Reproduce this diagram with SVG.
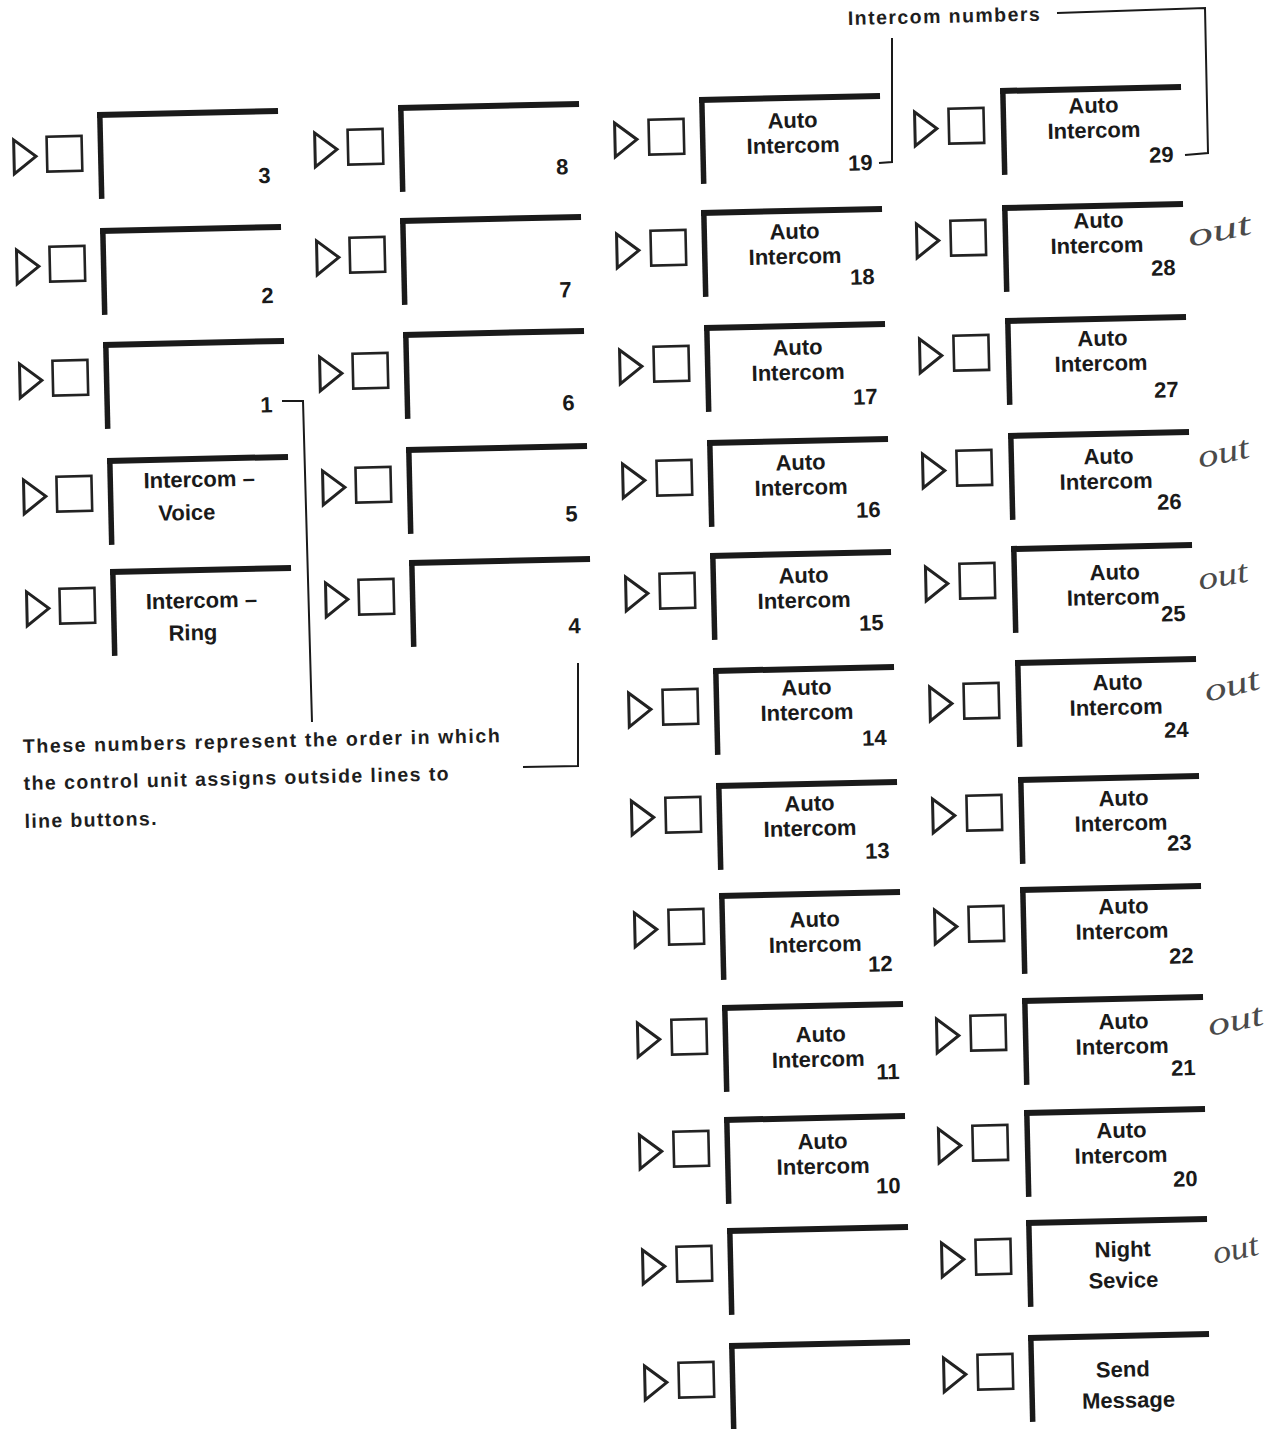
<svg xmlns="http://www.w3.org/2000/svg" width="1269" height="1429" viewBox="0 0 1269 1429">
<style>
.bg{fill:#ffffff}
.led{fill:none;stroke:#222;stroke-width:3;stroke-linejoin:miter}
.key{fill:none;stroke:#222;stroke-width:2.6}
.bar{fill:#1a1a1a}
.lbl{font-family:"Liberation Sans",Arial,sans-serif;font-weight:bold;font-size:22px;fill:#1a1a1a;text-anchor:middle}
.lbs{font-family:"Liberation Sans",Arial,sans-serif;font-weight:bold;font-size:22px;fill:#1a1a1a}
.num{font-family:"Liberation Sans",Arial,sans-serif;font-weight:bold;font-size:22px;fill:#1a1a1a;text-anchor:end}
.note{font-family:"Liberation Sans",Arial,sans-serif;font-weight:bold;font-size:19.5px;fill:#1e1e1e}
.ink{font-family:"Liberation Serif","DejaVu Serif",serif;font-style:italic;font-size:32px;fill:#4a4a4a}
.lead{fill:none;stroke:#1a1a1a;stroke-width:2}
</style>
<rect class="bg" x="0" y="0" width="1269" height="1429"/>

<!-- Column 1 -->
<g id="btn-3" transform="translate(97,112) rotate(-1.3)">
<polygon class="led" points="-84,26 -62,43 -84,60"/><rect class="key" x="-51" y="23.5" width="35" height="35"/>
<rect class="bar" x="0" y="0" width="181" height="6"/><rect class="bar" x="0" y="0" width="5.5" height="87"/>
<text class="num" x="172" y="75">3</text></g>
<g id="btn-2" transform="translate(100,228) rotate(-1.3)">
<polygon class="led" points="-84,20 -62,37 -84,54"/><rect class="key" x="-51" y="17.5" width="35" height="35"/>
<rect class="bar" x="0" y="0" width="181" height="6"/><rect class="bar" x="0" y="0" width="5.5" height="87"/>
<text class="num" x="172" y="79">2</text></g>
<g id="btn-1" transform="translate(103,342) rotate(-1.3)">
<polygon class="led" points="-84,20 -62,37 -84,54"/><rect class="key" x="-51" y="17.5" width="35" height="35"/>
<rect class="bar" x="0" y="0" width="181" height="6"/><rect class="bar" x="0" y="0" width="5.5" height="87"/>
<text class="num" x="168" y="74">1</text></g>
<g id="btn-intercom-voice" transform="translate(107,458) rotate(-1.3)">
<polygon class="led" points="-84,20 -62,37 -84,54"/><rect class="key" x="-51" y="17.5" width="35" height="35"/>
<rect class="bar" x="0" y="0" width="181" height="6"/><rect class="bar" x="0" y="0" width="5.5" height="87"/>
<text class="lbs" x="36" y="31">Intercom –</text><text class="lbs" x="50" y="64">Voice</text></g>
<g id="btn-intercom-ring" transform="translate(110,569) rotate(-1.3)">
<polygon class="led" points="-84,21 -62,38 -84,55"/><rect class="key" x="-51" y="18.5" width="35" height="35"/>
<rect class="bar" x="0" y="0" width="181" height="6"/><rect class="bar" x="0" y="0" width="5.5" height="87"/>
<text class="lbs" x="35" y="41">Intercom –</text><text class="lbs" x="57" y="73">Ring</text></g>

<!-- Column 2 -->
<g id="btn-8" transform="translate(398,105) rotate(-1.3)">
<polygon class="led" points="-84,26 -62,43 -84,60"/><rect class="key" x="-51" y="23.5" width="35" height="35"/>
<rect class="bar" x="0" y="0" width="181" height="6"/><rect class="bar" x="0" y="0" width="5.5" height="87"/>
<text class="num" x="169" y="73">8</text></g>
<g id="btn-7" transform="translate(400,218) rotate(-1.3)">
<polygon class="led" points="-84,21 -62,38 -84,55"/><rect class="key" x="-51" y="18.5" width="35" height="35"/>
<rect class="bar" x="0" y="0" width="181" height="6"/><rect class="bar" x="0" y="0" width="5.5" height="87"/>
<text class="num" x="170" y="83">7</text></g>
<g id="btn-6" transform="translate(403,332) rotate(-1.3)">
<polygon class="led" points="-84,23 -62,40 -84,57"/><rect class="key" x="-51" y="20.5" width="35" height="35"/>
<rect class="bar" x="0" y="0" width="181" height="6"/><rect class="bar" x="0" y="0" width="5.5" height="87"/>
<text class="num" x="170" y="82">6</text></g>
<g id="btn-5" transform="translate(406,447) rotate(-1.3)">
<polygon class="led" points="-84,22 -62,39 -84,56"/><rect class="key" x="-51" y="19.5" width="35" height="35"/>
<rect class="bar" x="0" y="0" width="181" height="6"/><rect class="bar" x="0" y="0" width="5.5" height="87"/>
<text class="num" x="170" y="78">5</text></g>
<g id="btn-4" transform="translate(409,560) rotate(-1.3)">
<polygon class="led" points="-84,21 -62,38 -84,55"/><rect class="key" x="-51" y="18.5" width="35" height="35"/>
<rect class="bar" x="0" y="0" width="181" height="6"/><rect class="bar" x="0" y="0" width="5.5" height="87"/>
<text class="num" x="170" y="77">4</text></g>

<!-- Column 3 -->
<g id="btn-19" transform="translate(699,97) rotate(-1.3)">
<polygon class="led" points="-85,24 -63,41 -85,58"/><rect class="key" x="-51" y="21.5" width="35" height="35"/>
<rect class="bar" x="0" y="0" width="181" height="6"/><rect class="bar" x="0" y="0" width="5.5" height="87"/>
<text class="lbl" x="93" y="33">Auto</text><text class="lbl" x="93" y="58">Intercom</text><text class="num" x="172" y="77">19</text></g>
<g id="btn-18" transform="translate(701,210) rotate(-1.3)">
<polygon class="led" points="-85,22 -63,39 -85,56"/><rect class="key" x="-51" y="19.5" width="35" height="35"/>
<rect class="bar" x="0" y="0" width="181" height="6"/><rect class="bar" x="0" y="0" width="5.5" height="87"/>
<text class="lbl" x="93" y="31">Auto</text><text class="lbl" x="93" y="56">Intercom</text><text class="num" x="172" y="78">18</text></g>
<g id="btn-17" transform="translate(704,325) rotate(-1.3)">
<polygon class="led" points="-85,23 -63,40 -85,57"/><rect class="key" x="-51" y="20.5" width="35" height="35"/>
<rect class="bar" x="0" y="0" width="181" height="6"/><rect class="bar" x="0" y="0" width="5.5" height="87"/>
<text class="lbl" x="93" y="32">Auto</text><text class="lbl" x="93" y="57">Intercom</text><text class="num" x="172" y="83">17</text></g>
<g id="btn-16" transform="translate(707,440) rotate(-1.3)">
<polygon class="led" points="-85,22 -63,39 -85,56"/><rect class="key" x="-51" y="19.5" width="35" height="35"/>
<rect class="bar" x="0" y="0" width="181" height="6"/><rect class="bar" x="0" y="0" width="5.5" height="87"/>
<text class="lbl" x="93" y="32">Auto</text><text class="lbl" x="93" y="57">Intercom</text><text class="num" x="172" y="81">16</text></g>
<g id="btn-15" transform="translate(710,553) rotate(-1.3)">
<polygon class="led" points="-85,22 -63,39 -85,56"/><rect class="key" x="-51" y="19.5" width="35" height="35"/>
<rect class="bar" x="0" y="0" width="181" height="6"/><rect class="bar" x="0" y="0" width="5.5" height="87"/>
<text class="lbl" x="93" y="32">Auto</text><text class="lbl" x="93" y="57">Intercom</text><text class="num" x="172" y="81">15</text></g>
<g id="btn-14" transform="translate(713,668) rotate(-1.3)">
<polygon class="led" points="-85,23 -63,40 -85,57"/><rect class="key" x="-51" y="20.5" width="35" height="35"/>
<rect class="bar" x="0" y="0" width="181" height="6"/><rect class="bar" x="0" y="0" width="5.5" height="87"/>
<text class="lbl" x="93" y="29">Auto</text><text class="lbl" x="93" y="54">Intercom</text><text class="num" x="172" y="81">14</text></g>
<g id="btn-13" transform="translate(716,783) rotate(-1.3)">
<polygon class="led" points="-85,16 -63,33 -85,50"/><rect class="key" x="-51" y="13.5" width="35" height="35"/>
<rect class="bar" x="0" y="0" width="181" height="6"/><rect class="bar" x="0" y="0" width="5.5" height="87"/>
<text class="lbl" x="93" y="30">Auto</text><text class="lbl" x="93" y="55">Intercom</text><text class="num" x="172" y="79">13</text></g>
<g id="btn-12" transform="translate(719,893) rotate(-1.3)">
<polygon class="led" points="-85,18 -63,35 -85,52"/><rect class="key" x="-51" y="15.5" width="35" height="35"/>
<rect class="bar" x="0" y="0" width="181" height="6"/><rect class="bar" x="0" y="0" width="5.5" height="87"/>
<text class="lbl" x="95" y="36">Auto</text><text class="lbl" x="95" y="61">Intercom</text><text class="num" x="172" y="82">12</text></g>
<g id="btn-11" transform="translate(722,1005) rotate(-1.3)">
<polygon class="led" points="-85,16 -63,33 -85,50"/><rect class="key" x="-51" y="13.5" width="35" height="35"/>
<rect class="bar" x="0" y="0" width="181" height="6"/><rect class="bar" x="0" y="0" width="5.5" height="87"/>
<text class="lbl" x="98" y="39">Auto</text><text class="lbl" x="95" y="64">Intercom</text><text class="num" x="176" y="78">11</text></g>
<g id="btn-10" transform="translate(724,1117) rotate(-1.3)">
<polygon class="led" points="-85,16 -63,33 -85,50"/><rect class="key" x="-51" y="13.5" width="35" height="35"/>
<rect class="bar" x="0" y="0" width="181" height="6"/><rect class="bar" x="0" y="0" width="5.5" height="87"/>
<text class="lbl" x="98" y="34">Auto</text><text class="lbl" x="98" y="59">Intercom</text><text class="num" x="175" y="80">10</text></g>
<g id="btn-blank-a" transform="translate(727,1228) rotate(-1.3)">
<polygon class="led" points="-85,20 -63,37 -85,54"/><rect class="key" x="-51" y="17.5" width="35" height="35"/>
<rect class="bar" x="0" y="0" width="181" height="6"/><rect class="bar" x="0" y="0" width="5.5" height="87"/></g>
<g id="btn-blank-b" transform="translate(729,1343) rotate(-1.3)">
<polygon class="led" points="-85,21 -63,38 -85,55"/><rect class="key" x="-51" y="18.5" width="35" height="35"/>
<rect class="bar" x="0" y="0" width="181" height="6"/><rect class="bar" x="0" y="0" width="5.5" height="87"/></g>

<!-- Column 4 -->
<g id="btn-29" transform="translate(1000,88) rotate(-1.3)">
<polygon class="led" points="-86,22 -64,39 -86,56"/><rect class="key" x="-52" y="19.5" width="35" height="35"/>
<rect class="bar" x="0" y="0" width="181" height="6"/><rect class="bar" x="0" y="0" width="5.5" height="87"/>
<text class="lbl" x="93" y="27">Auto</text><text class="lbl" x="93" y="52">Intercom</text><text class="num" x="172" y="78">29</text></g>
<g id="btn-28" transform="translate(1002,205) rotate(-1.3)">
<polygon class="led" points="-86,17 -64,34 -86,51"/><rect class="key" x="-52" y="14.5" width="35" height="35"/>
<rect class="bar" x="0" y="0" width="181" height="6"/><rect class="bar" x="0" y="0" width="5.5" height="87"/>
<text class="lbl" x="96" y="25">Auto</text><text class="lbl" x="94" y="50">Intercom</text><text class="num" x="172" y="74">28</text></g>
<g id="btn-27" transform="translate(1005,318) rotate(-1.3)">
<polygon class="led" points="-86,19 -64,36 -86,53"/><rect class="key" x="-52" y="16.5" width="35" height="35"/>
<rect class="bar" x="0" y="0" width="181" height="6"/><rect class="bar" x="0" y="0" width="5.5" height="87"/>
<text class="lbl" x="97" y="30">Auto</text><text class="lbl" x="95" y="55">Intercom</text><text class="num" x="172" y="83">27</text></g>
<g id="btn-26" transform="translate(1008,433) rotate(-1.3)">
<polygon class="led" points="-86,19 -64,36 -86,53"/><rect class="key" x="-52" y="16.5" width="35" height="35"/>
<rect class="bar" x="0" y="0" width="181" height="6"/><rect class="bar" x="0" y="0" width="5.5" height="87"/>
<text class="lbl" x="100" y="33">Auto</text><text class="lbl" x="97" y="58">Intercom</text><text class="num" x="172" y="80">26</text></g>
<g id="btn-25" transform="translate(1011,546) rotate(-1.3)">
<polygon class="led" points="-86,19 -64,36 -86,53"/><rect class="key" x="-52" y="16.5" width="35" height="35"/>
<rect class="bar" x="0" y="0" width="181" height="6"/><rect class="bar" x="0" y="0" width="5.5" height="87"/>
<text class="lbl" x="103" y="36">Auto</text><text class="lbl" x="101" y="61">Intercom</text><text class="num" x="173" y="79">25</text></g>
<g id="btn-24" transform="translate(1015,660) rotate(-1.3)">
<polygon class="led" points="-86,25 -64,42 -86,59"/><rect class="key" x="-52" y="22.5" width="35" height="35"/>
<rect class="bar" x="0" y="0" width="181" height="6"/><rect class="bar" x="0" y="0" width="5.5" height="87"/>
<text class="lbl" x="102" y="32">Auto</text><text class="lbl" x="100" y="57">Intercom</text><text class="num" x="172" y="81">24</text></g>
<g id="btn-23" transform="translate(1018,777) rotate(-1.3)">
<polygon class="led" points="-86,20 -64,37 -86,54"/><rect class="key" x="-52" y="17.5" width="35" height="35"/>
<rect class="bar" x="0" y="0" width="181" height="6"/><rect class="bar" x="0" y="0" width="5.5" height="87"/>
<text class="lbl" x="105" y="31">Auto</text><text class="lbl" x="102" y="56">Intercom</text><text class="num" x="172" y="77">23</text></g>
<g id="btn-22" transform="translate(1020,887) rotate(-1.3)">
<polygon class="led" points="-86,21 -64,38 -86,55"/><rect class="key" x="-52" y="18.5" width="35" height="35"/>
<rect class="bar" x="0" y="0" width="181" height="6"/><rect class="bar" x="0" y="0" width="5.5" height="87"/>
<text class="lbl" x="103" y="29">Auto</text><text class="lbl" x="101" y="54">Intercom</text><text class="num" x="172" y="80">22</text></g>
<g id="btn-21" transform="translate(1022,998) rotate(-1.3)">
<polygon class="led" points="-86,19 -64,36 -86,53"/><rect class="key" x="-52" y="16.5" width="35" height="35"/>
<rect class="bar" x="0" y="0" width="181" height="6"/><rect class="bar" x="0" y="0" width="5.5" height="87"/>
<text class="lbl" x="101" y="33">Auto</text><text class="lbl" x="99" y="58">Intercom</text><text class="num" x="172" y="81">21</text></g>
<g id="btn-20" transform="translate(1024,1110) rotate(-1.3)">
<polygon class="led" points="-86,17 -64,34 -86,51"/><rect class="key" x="-52" y="14.5" width="35" height="35"/>
<rect class="bar" x="0" y="0" width="181" height="6"/><rect class="bar" x="0" y="0" width="5.5" height="87"/>
<text class="lbl" x="97" y="30">Auto</text><text class="lbl" x="96" y="55">Intercom</text><text class="num" x="172" y="80">20</text></g>
<g id="btn-night-service" transform="translate(1026,1220) rotate(-1.3)">
<polygon class="led" points="-85,21 -63,38 -85,55"/><rect class="key" x="-51" y="18.5" width="35" height="35"/>
<rect class="bar" x="0" y="0" width="181" height="6"/><rect class="bar" x="0" y="0" width="5.5" height="87"/>
<text class="lbl" x="96" y="39">Night</text><text class="lbl" x="96" y="70">Sevice</text></g>
<g id="btn-send-message" transform="translate(1028,1335) rotate(-1.3)">
<polygon class="led" points="-85,21 -63,38 -85,55"/><rect class="key" x="-51" y="18.5" width="35" height="35"/>
<rect class="bar" x="0" y="0" width="181" height="6"/><rect class="bar" x="0" y="0" width="5.5" height="87"/>
<text class="lbl" x="94" y="44">Send</text><text class="lbl" x="99" y="75">Message</text></g>

<!-- Callout texts -->
<g id="label-intercom-numbers">
<text class="note" x="848" y="25" textLength="192" lengthAdjust="spacing" font-size="18" transform="rotate(-1.3 848 25)">Intercom numbers</text>
</g>
<g id="label-order-note" transform="rotate(-1.3 23 753)">
<text class="note" x="23" y="753" textLength="477" lengthAdjust="spacing">These numbers represent the order in which</text>
<text class="note" x="23" y="790" textLength="425" lengthAdjust="spacing">the control unit assigns outside lines to</text>
<text class="note" x="23" y="828" textLength="132" lengthAdjust="spacing">line buttons.</text>
</g>

<!-- Handwritten annotations -->
<g id="handwritten-notes">
<text class="ink" x="1190" y="247" textLength="64" lengthAdjust="spacingAndGlyphs" transform="rotate(-12 1190 247)">out</text>
<text class="ink" x="1200" y="468" font-size="24" textLength="52" lengthAdjust="spacingAndGlyphs" transform="rotate(-12 1200 468)">out</text>
<text class="ink" x="1200" y="590" font-size="28" textLength="50" lengthAdjust="spacingAndGlyphs" transform="rotate(-10 1200 590)">out</text>
<text class="ink" x="1207" y="702" textLength="56" lengthAdjust="spacingAndGlyphs" transform="rotate(-14 1207 702)">out</text>
<text class="ink" x="1210" y="1036" textLength="56" lengthAdjust="spacingAndGlyphs" transform="rotate(-12 1210 1036)">out</text>
<text class="ink" x="1215" y="1264" font-size="28" textLength="46" lengthAdjust="spacingAndGlyphs" transform="rotate(-12 1215 1264)">out</text>
</g>

<!-- Connectors / leader lines -->
<g id="connectors">
<polyline class="lead" points="1057,13 1205,8 1208,153 1185,155"/>
<polyline class="lead" points="892,38 892,162 879,163"/>
<polyline class="lead" points="282,401 303,401 312,722"/>
<polyline class="lead" points="578,663 578,766 523,767"/>
</g>
</svg>
